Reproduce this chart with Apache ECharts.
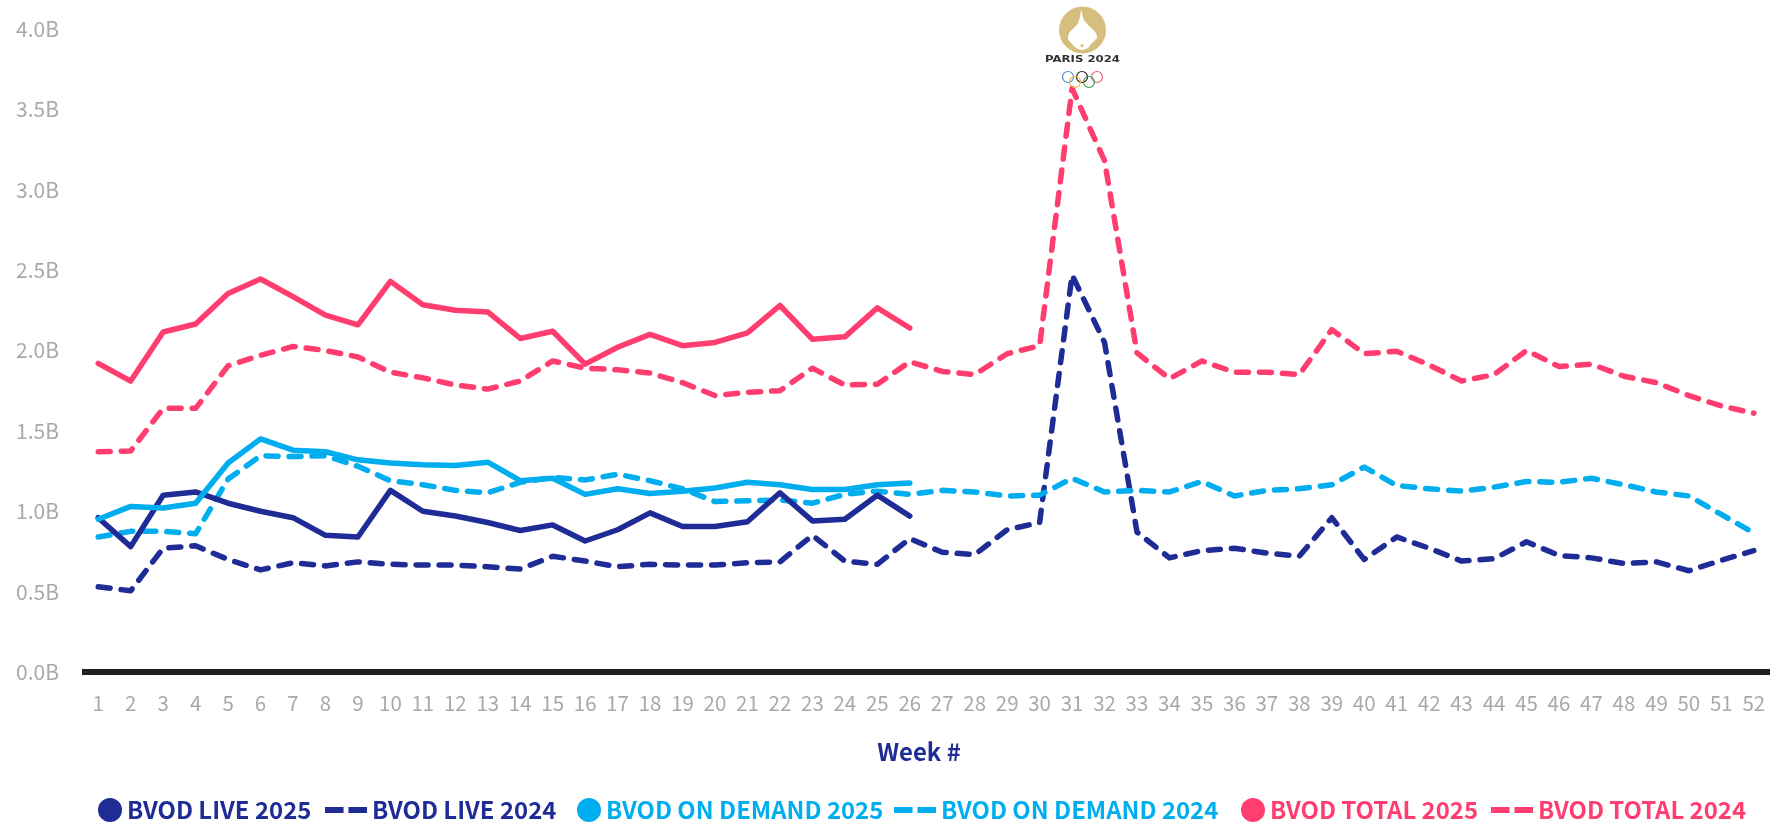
<!DOCTYPE html>
<html><head><meta charset="utf-8">
<style>html,body{margin:0;padding:0;background:#fff}#c{width:1772px;height:825px}</style>
<script src="https://cdn.jsdelivr.net/npm/echarts@6/dist/echarts.min.js"></script></head>
<body><div id="c"></div>
<script>
const weeks = Array.from({length:52},(_, i)=>String(i+1));
const yTicks = [0,0.5,1,1.5,2,2.5,3,3.5,4];
const live2025 = [.96,.78,1.10,1.12,1.05,1.0,.96,.85,.84,1.13,1.0,.97,.93,.88,.915,.815,.885,.99,.905,.905,.935,1.115,.94,.95,1.10,.97];
const live2024 = [.53,.505,.77,.785,.70,.635,.68,.66,.685,.67,.665,.665,.655,.64,.72,.69,.655,.67,.665,.665,.68,.685,.85,.69,.67,.83,.745,.73,.885,.93,2.47,2.05,.87,.71,.755,.77,.74,.72,.96,.70,.84,.77,.69,.705,.81,.725,.71,.675,.685,.63,.695,.755];
const od2025 = [.95,1.03,1.02,1.05,1.30,1.45,1.38,1.37,1.32,1.30,1.29,1.285,1.305,1.19,1.205,1.105,1.14,1.11,1.125,1.145,1.18,1.165,1.135,1.135,1.165,1.175];
const od2024 = [.84,.875,.875,.86,1.2,1.345,1.34,1.345,1.28,1.19,1.165,1.13,1.115,1.18,1.21,1.195,1.23,1.19,1.14,1.06,1.065,1.07,1.05,1.105,1.125,1.105,1.13,1.12,1.095,1.10,1.205,1.12,1.13,1.12,1.185,1.095,1.13,1.14,1.165,1.275,1.16,1.14,1.125,1.15,1.185,1.18,1.205,1.165,1.12,1.095,.98,.865];
const total2025 = [1.92,1.81,2.115,2.165,2.355,2.445,2.335,2.22,2.16,2.43,2.285,2.25,2.24,2.075,2.12,1.915,2.02,2.10,2.03,2.05,2.11,2.28,2.07,2.085,2.265,2.14];
const total2024 = [1.37,1.375,1.64,1.64,1.905,1.97,2.025,2.0,1.96,1.865,1.83,1.785,1.76,1.81,1.935,1.89,1.88,1.86,1.80,1.72,1.74,1.75,1.89,1.785,1.79,1.93,1.87,1.85,1.98,2.03,3.63,3.18,1.985,1.825,1.935,1.865,1.865,1.85,2.13,1.98,1.995,1.91,1.81,1.85,2.0,1.90,1.915,1.84,1.80,1.72,1.655,1.61];

const NAVY='#1F2C96', CYAN='#00AEEF', PINK='#FF3D6F';
const FONT='"Noto Sans CJK SC","Noto Sans",sans-serif';
const DASH_ICON='path://M0,0H19V6H0Z M24,0H43V6H24Z';
function line(name,data,color,dashed){
  return {name,type:'line',data,symbol:'none',smooth:false,z:dashed?2:3,
    lineStyle:{color,width:5.5,type:dashed?[12,11]:'solid',cap:'round',join:'round'},
    itemStyle:{color},emphasis:{disabled:true}};
}
function leg(name,color,left,dashed){
  return {show:true,data:[{name,icon:dashed?DASH_ICON:'circle'}],left,top:798,orient:'horizontal',
    padding:0,itemWidth:dashed?42:24,itemHeight:dashed?6:24,itemGap:0,selectedMode:false,
    textStyle:{color,fontFamily:FONT,fontWeight:'bold',fontSize:23.9,padding:[0,0,0,0]}};
}
const chart=echarts.init(document.getElementById('c'),null,{renderer:'canvas'});
const flame=[[1081,10],[1084,20],[1090,27],[1096,33],[1097,38],[1092,43],[1088,48],[1082,50],[1076,48],[1072,44],[1068,39],[1069,33],[1074,28],[1078,23],[1080,17]];
const rings=[[1068,77,'#4C8FD0'],[1082,77,'#222222'],[1097,77,'#E4606D'],[1075,82,'#EDB84E'],[1089,82,'#3E9B55']];
chart.setOption({
  animation:false,backgroundColor:'#fff',
  grid:{left:82,right:2,top:29,height:643,containLabel:false},
  legend:[leg('BVOD LIVE 2025',NAVY,98,false),leg('BVOD LIVE 2024',NAVY,325,true),
          leg('BVOD ON DEMAND 2025',CYAN,577,false),leg('BVOD ON DEMAND 2024',CYAN,894,true),
          leg('BVOD TOTAL 2025',PINK,1241,false),leg('BVOD TOTAL 2024',PINK,1491,true)],
  xAxis:{type:'category',data:weeks,boundaryGap:true,name:'Week #',nameLocation:'middle',nameGap:68,
    nameTextStyle:{color:NAVY,fontFamily:FONT,fontWeight:'bold',fontSize:23.9,padding:[0,14,0,0]},
    axisLine:{show:true,onZero:true,lineStyle:{color:'#231F20',width:6,cap:'butt'}},axisTick:{show:false},
    axisLabel:{color:'#A9A9A9',fontFamily:FONT,fontSize:20.5,interval:0,margin:21}},
  yAxis:{type:'value',min:0,max:4,interval:0.5,splitLine:{show:false},axisLine:{show:false},axisTick:{show:false},
    axisLabel:{color:'#A9A9A9',fontFamily:FONT,fontSize:21,margin:23,formatter:v=>v.toFixed(1)+'B'}},
  tooltip:{show:false},
  series:[line('BVOD LIVE 2025',live2025,NAVY,false),line('BVOD LIVE 2024',live2024,NAVY,true),
    line('BVOD ON DEMAND 2025',od2025,CYAN,false),line('BVOD ON DEMAND 2024',od2024,CYAN,true),
    line('BVOD TOTAL 2025',total2025,PINK,false),line('BVOD TOTAL 2024',total2024,PINK,true)],
  graphic:[
    {type:'circle',shape:{cx:1082.5,cy:30,r:23.5},style:{fill:'#D5BE7E'},z:10},
    {type:'polygon',shape:{points:flame,smooth:0.2},style:{fill:'#fff'},z:11},
    {type:'circle',shape:{cx:1082,cy:45.5,r:1.6},style:{fill:'#D5BE7E'},z:12},
    {type:'text',x:1082.5,y:60,scaleX:1.3,style:{text:'PARIS 2024',align:'center',verticalAlign:'middle',fill:'#333',font:'bold 9px "DejaVu Sans"'},z:11},
    ...rings.map(r=>({type:'circle',shape:{cx:r[0],cy:r[1],r:5.5},style:{fill:'none',stroke:r[2],lineWidth:1.2},z:11}))
  ]
});
</script></body></html>
